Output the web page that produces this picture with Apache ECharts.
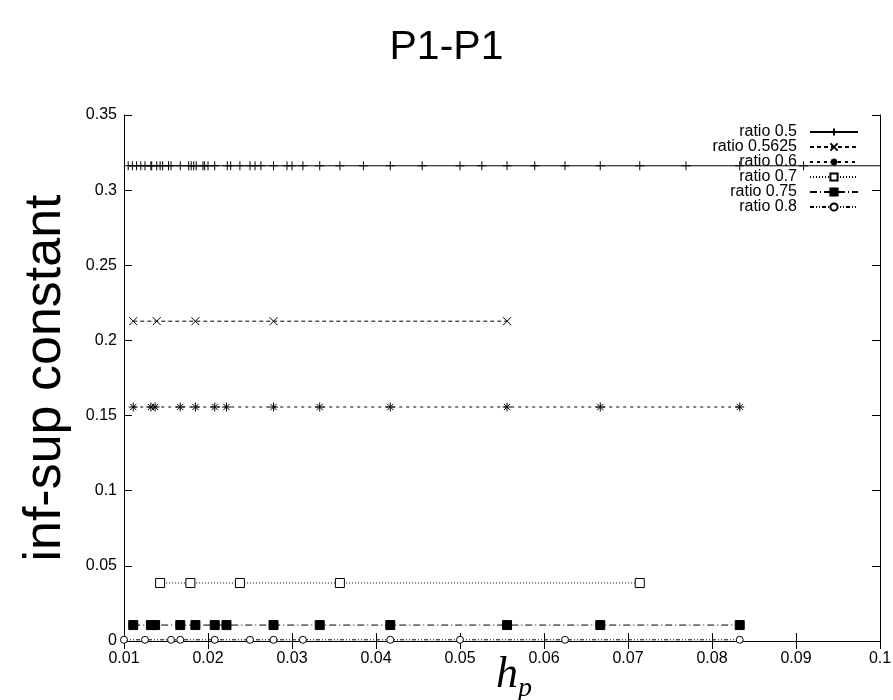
<!DOCTYPE html>
<html>
<head>
<meta charset="utf-8">
<title>P1-P1</title>
<script src="https://cdn.jsdelivr.net/npm/echarts@6/dist/echarts.min.js"></script>
<style>
  html, body { margin: 0; padding: 0; background: #fff; }
  #chart { width: 893px; height: 700px; }
</style>
</head>
<body>
<div id="chart"></div>
<script>
// mesh sizes h_p, one list per ratio
const h05 = [0.0105, 0.0110, 0.0115, 0.0120, 0.0125, 0.0132, 0.0133, 0.0139, 0.0143, 0.0146,
  0.0153, 0.0156, 0.0167, 0.0177, 0.0180, 0.0183, 0.0186, 0.0194, 0.0196, 0.0200,
  0.0208, 0.0223, 0.0227, 0.0238, 0.0250, 0.0256, 0.0263, 0.0278, 0.0294, 0.0300,
  0.0313, 0.0333, 0.0357, 0.0385, 0.0417, 0.0455, 0.0500, 0.0526, 0.0556, 0.0589,
  0.0625, 0.0667, 0.0714, 0.0769, 0.0833, 0.0909]
const h05Tail = 0.1111 // line runs past the right border
const h05625 = [0.0111, 0.0139, 0.0185, 0.0278, 0.0556]
const h06 = [0.0111, 0.0132, 0.0137, 0.0167, 0.0185, 0.0208, 0.0222, 0.0278, 0.0333, 0.0417, 0.0556, 0.0667, 0.0833]
const h07 = [0.0143, 0.0179, 0.0238, 0.0357, 0.0714]
const h075 = [0.0111, 0.0132, 0.0137, 0.0167, 0.0185, 0.0208, 0.0222, 0.0278, 0.0333, 0.0417, 0.0556, 0.0667, 0.0833]
const h08 = [0.0100, 0.0125, 0.0156, 0.0167, 0.0208, 0.0250, 0.0278, 0.0313, 0.0417, 0.0500, 0.0625, 0.0833]

// inf-sup constant of each ratio (flat in h_p)
const names = ['ratio 0.5', 'ratio 0.5625', 'ratio 0.6', 'ratio 0.7', 'ratio 0.75', 'ratio 0.8']
const levels = [0.3162, 0.2128, 0.1557, 0.0386, 0.0106, 0.0008]

const xTicks = ['0.01', '0.02', '0.03', '0.04', '0.05', '0.06', '0.07', '0.08', '0.09', '0.1']
const yTicks = ['0', '0.05', '0.1', '0.15', '0.2', '0.25', '0.3', '0.35']

const pts = (hs, v) => hs.map(h => [h, v])
const fmt = v => String(Math.round(v * 100) / 100)

const plusPath = 'path://M0,5L10,5M5,0L5,10'
const crossPath = 'path://M0,0L10,10M0,10L10,0'
const starPath = 'path://M0,5L10,5M5,0L5,10M1.5,1.5L8.5,8.5M1.5,8.5L8.5,1.5'

const chart = echarts.init(document.getElementById('chart'))

const tickStyle = { inside: true, length: 8, lineStyle: { color: '#000' } }
const labelFont = { fontFamily: 'Liberation Sans, Arial, sans-serif', fontSize: 16, color: '#000' }

function lineSeries(name, data, dash, symbol, size, fill, extra) {
  return Object.assign({
    name: name,
    type: 'line',
    data: data,
    symbol: symbol,
    symbolSize: size,
    showSymbol: true,
    animation: false,
    lineStyle: { color: '#000', width: 1, type: dash },
    itemStyle: { color: fill, borderColor: '#000', borderWidth: 1 }
  }, extra || {})
}

const s05 = pts(h05, levels[0])
s05.push({ value: [h05Tail, levels[0]], symbol: 'none' })

chart.setOption({
  backgroundColor: '#fff',
  title: {
    text: 'P1-P1',
    left: 'center',
    top: 22,
    textStyle: { fontFamily: 'Liberation Sans, Arial, sans-serif', fontSize: 41, fontWeight: 'normal', color: '#000' }
  },
  grid: { left: 124, right: 13, top: 115, bottom: 59, outerBoundsMode: 'none', containLabel: false },
  legend: {
    data: names,
    orient: 'vertical',
    right: 29,
    top: 119,
    align: 'right',
    itemWidth: 48,
    itemHeight: 9,
    itemGap: -1,
    textStyle: { fontFamily: 'Liberation Sans, Arial, sans-serif', fontSize: 16, color: '#000', lineHeight: 14, padding: [0, 8, 0, 0] }
  },
  xAxis: [{
    type: 'value',
    min: 0.01,
    max: 0.1,
    interval: 0.01,
    name: '{h|h}{p|p}',
    nameLocation: 'middle',
    nameGap: 12,
    nameMoveOverlap: false,
    nameTextStyle: {
      rich: {
        h: { fontFamily: 'Liberation Serif, serif', fontStyle: 'italic', fontSize: 44, color: '#000', verticalAlign: 'top', padding: [0, 0, 0, 24] },
        p: { fontFamily: 'Liberation Serif, serif', fontStyle: 'italic', fontSize: 28, color: '#000', padding: [22, 0, 0, 0] }
      }
    },
    axisLine: { lineStyle: { color: '#000' } },
    axisTick: tickStyle,
    axisLabel: Object.assign({ margin: 10, formatter: v => xTicks[Math.round(v * 100) - 1] }, labelFont),
    splitLine: { show: false }
  }, {
    type: 'value',
    position: 'top',
    min: 0.01,
    max: 0.1,
    interval: 0.01,
    axisLine: { lineStyle: { color: '#000' } },
    axisTick: tickStyle,
    axisLabel: { show: false },
    splitLine: { show: false }
  }],
  yAxis: [{
    type: 'value',
    min: 0,
    max: 0.35,
    interval: 0.05,
    name: 'inf-sup constant',
    nameLocation: 'middle',
    nameGap: 52,
    nameMoveOverlap: false,
    nameTextStyle: { fontFamily: 'Liberation Sans, Arial, sans-serif', fontSize: 52, color: '#000' },
    axisLine: { show: true, lineStyle: { color: '#000' } },
    axisTick: tickStyle,
    axisLabel: Object.assign({ margin: 7, formatter: v => yTicks[Math.round(v * 20)] || fmt(v) }, labelFont),
    splitLine: { show: false }
  }, {
    type: 'value',
    position: 'right',
    min: 0,
    max: 0.35,
    interval: 0.05,
    axisLine: { show: true, lineStyle: { color: '#000' } },
    axisTick: tickStyle,
    axisLabel: { show: false },
    splitLine: { show: false }
  }],
  series: [
    lineSeries(names[0], s05, 'solid', plusPath, 9, '#000', { clip: false }),
    lineSeries(names[1], pts(h05625, levels[1]), [4, 3], crossPath, 8, '#000'),
    lineSeries(names[2], pts(h06, levels[2]), [3, 4], starPath, 9, '#000'),
    lineSeries(names[3], pts(h07, levels[3]), [1, 2], 'rect', 9, '#fff'),
    lineSeries(names[4], pts(h075, levels[4]), [7, 3, 1, 3], 'rect', 9, '#000'),
    lineSeries(names[5], pts(h08, levels[5]), [4, 2, 1, 2, 1, 2], 'circle', 7, '#fff')
  ]
})
</script>
</body>
</html>
